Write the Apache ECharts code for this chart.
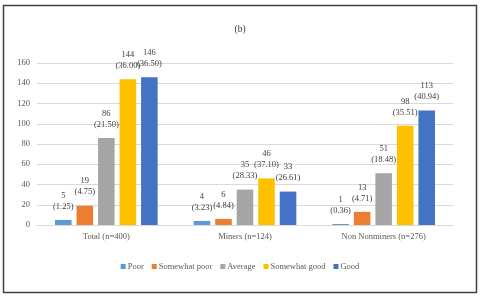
<!DOCTYPE html>
<html><head><meta charset="utf-8">
<script src="https://cdn.jsdelivr.net/npm/echarts@6/dist/echarts.min.js"></script>
<style>html,body{margin:0;padding:0;background:#fff}#c{width:480px;height:296px}</style>
</head><body><div id="c"></div>
<script>
const categories = ["Total (n=400)", "Miners (n=124)", "Non Nonminers (n=276)"];
const seriesNames = ["Poor", "Somewhat poor", "Average", "Somewhat good", "Good"];
const poor = [5, 4, 1];
const poorPct = ["1.25", "3.23", "0.36"];
const somewhatPoor = [19, 6, 13];
const somewhatPoorPct = ["4.75", "4.84", "4.71"];
const average = [86, 35, 51];
const averagePct = ["21.50", "28.33", "18.48"];
const somewhatGood = [144, 46, 98];
const somewhatGoodPct = ["36.00", "37.10", "35.51"];
const good = [146, 33, 113];
const goodPct = ["36.50", "26.61", "40.94"];
const yTicks = [0, 20, 40, 60, 80, 100, 120, 140, 160];

const colors = ["#5B9BD5", "#ED7D31", "#A5A5A5", "#FFC000", "#4472C4"];
const values = [poor, somewhatPoor, average, somewhatGood, good];
const pcts = [poorPct, somewhatPoorPct, averagePct, somewhatGoodPct, goodPct];
const serif = "Liberation Serif";

const chart = echarts.init(document.getElementById('c'), null, {renderer: 'canvas'});
chart.setOption({
  animation: false,
  backgroundColor: '#fff',
  color: colors,
  title: {text: '(b)', left: 'center', top: 19, textStyle: {fontFamily: serif, fontSize: 9.5, fontWeight: 'normal', color: '#404040'}},
  grid: {left: 37, right: 27, top: 63, bottom: 71},
  legend: {
    data: seriesNames, bottom: 20, left: 'center', icon: 'rect',
    itemWidth: 5, itemHeight: 5, itemGap: 8,
    textStyle: {fontFamily: serif, fontSize: 8.5, color: '#595959', padding: [0, 0, 0, -3]}
  },
  xAxis: {
    type: 'category', data: categories,
    axisLine: {lineStyle: {color: '#d9d9d9'}}, axisTick: {show: false},
    axisLabel: {fontFamily: serif, fontSize: 8.5, color: '#595959', margin: 7}
  },
  yAxis: {
    type: 'value', min: yTicks[0], max: yTicks[yTicks.length - 1], interval: 20,
    axisLine: {show: false}, axisTick: {show: false},
    splitLine: {lineStyle: {color: '#d9d9d9'}},
    axisLabel: {fontFamily: serif, fontSize: 8.5, color: '#595959', margin: 7}
  },
  series: seriesNames.map((n, i) => ({
    name: n, type: 'bar', data: values[i],
    barGap: '30%', barCategoryGap: '26%',
    label: {
      show: true, position: 'top', distance: 8,
      fontFamily: serif, fontSize: 8.5, lineHeight: 11, color: '#404040',
      formatter: p => p.value + '\n(' + pcts[i][p.dataIndex] + ')'
    }
  })),
  graphic: [{
    type: 'rect', shape: {x: 3.5, y: 5.5, width: 473, height: 287},
    style: {fill: null, stroke: '#404040', lineWidth: 1.5}, silent: true
  }]
});
</script></body></html>
